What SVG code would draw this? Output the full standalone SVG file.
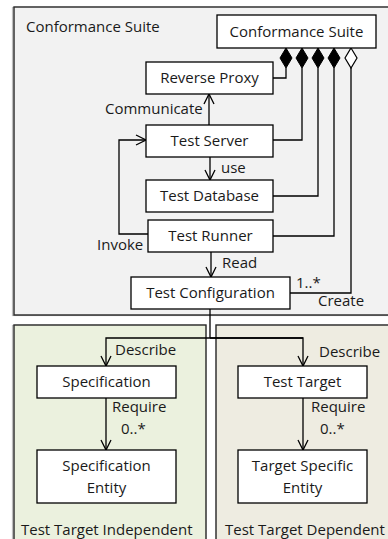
<svg xmlns="http://www.w3.org/2000/svg" width="388" height="539" viewBox="0 0 388 539">
<style>
  text { font-family: "Open Sans", "Noto Sans", sans-serif; font-size: 15px; fill: #1a1a1a; }
  .c { text-anchor: middle; }
  .node { fill: #ffffff; stroke: #000000; stroke-width: 1.3; }
  .cont { stroke: #262626; stroke-width: 1.4; }
  .shadow { fill: none; stroke: #bdbdbd; stroke-width: 1.2; }
  .line { fill: none; stroke: #000000; stroke-width: 1.3; }
  .dfill { fill: #000000; stroke: #000000; stroke-width: 1; }
  .dhollow { fill: #ffffff; stroke: #000000; stroke-width: 1.2; }
</style>
<defs>
  <marker id="arr" markerUnits="userSpaceOnUse" markerWidth="14" markerHeight="14" viewBox="-12 -7 14 14" refX="0" refY="0" orient="auto">
    <path d="M-10,-5 L0,0 L-10,5" fill="none" stroke="#000" stroke-width="1.3"/>
  </marker>
</defs>

<g id="container-suite">
  <rect x="12.5" y="7.5" width="380" height="308" class="shadow"/>
  <rect x="14" y="7" width="380" height="308" fill="#f2f2f2" class="cont"/>
  <text x="26" y="32">Conformance Suite</text>
</g>
<g id="container-independent">
  <rect x="12.5" y="325.5" width="193" height="220" class="shadow"/>
  <rect x="14" y="325" width="192" height="220" fill="#ebf1de" class="cont"/>
  <text x="21" y="535">Test Target Independent</text>
</g>
<g id="container-dependent">
  <rect x="217.5" y="325.5" width="180" height="220" class="shadow"/>
  <rect x="216" y="325" width="180" height="220" fill="#eeece1" class="cont"/>
  <text x="225" y="535">Test Target Dependent</text>
</g>

<g id="connectors">
  <!-- aggregation lines -->
  <polyline class="line" points="286,68 286,78 273,78"/>
  <polyline class="line" points="302,68 302,140 273,140"/>
  <polyline class="line" points="318,68 318,196 273,196"/>
  <polyline class="line" points="334,68 334,236 273,236"/>
  <polyline class="line" points="351,68 351,293 290,293"/>
  <polygon class="dfill" points="286,48 292,58 286,68 280,58"/>
  <polygon class="dfill" points="302,48 308,58 302,68 296,58"/>
  <polygon class="dfill" points="318,48 324,58 318,68 312,58"/>
  <polygon class="dfill" points="334,48 340,58 334,68 328,58"/>
  <polygon class="dhollow" points="351,48 357,58 351,68 345,58"/>
  <!-- arrows -->
  <line class="line" x1="209" y1="125" x2="209" y2="94" marker-end="url(#arr)"/>
  <line class="line" x1="210" y1="157" x2="210" y2="180" marker-end="url(#arr)"/>
  <line class="line" x1="211" y1="252" x2="211" y2="277" marker-end="url(#arr)"/>
  <polyline class="line" points="148,234 119,234 119,140 146,140" marker-end="url(#arr)"/>
  <polyline class="line" points="210,309 210,338"/>
  <polyline class="line" points="303,338 106,338 106,366" marker-end="url(#arr)"/>
  <polyline class="line" points="210,338 303,338 303,366" marker-end="url(#arr)"/>
  <line class="line" x1="106" y1="398" x2="106" y2="450" marker-end="url(#arr)"/>
  <line class="line" x1="303" y1="398" x2="303" y2="450" marker-end="url(#arr)"/>
  <!-- labels -->
  <text x="105" y="114">Communicate</text>
  <text x="221" y="173">use</text>
  <text x="222" y="268">Read</text>
  <text x="97" y="250">Invoke</text>
  <text x="296" y="288">1..*</text>
  <text x="318" y="306">Create</text>
  <text x="115" y="355">Describe</text>
  <text x="112" y="412">Require</text>
  <text x="121" y="434">0..*</text>
  <text x="319" y="357">Describe</text>
  <text x="311" y="412">Require</text>
  <text x="320" y="434">0..*</text>
</g>

<g id="node-conformance-suite">
  <rect x="217" y="15" width="159" height="33" class="node"/>
  <text x="296.5" y="37" class="c">Conformance Suite</text>
</g>
<g id="node-reverse-proxy">
  <rect x="146" y="62" width="127" height="32" class="node"/>
  <text x="209.5" y="83" class="c">Reverse Proxy</text>
</g>
<g id="node-test-server">
  <rect x="146" y="125" width="127" height="32" class="node"/>
  <text x="209.5" y="146" class="c">Test Server</text>
</g>
<g id="node-test-database">
  <rect x="146" y="180" width="127" height="32" class="node"/>
  <text x="209.5" y="201" class="c">Test Database</text>
</g>
<g id="node-test-runner">
  <rect x="148" y="220" width="125" height="32" class="node"/>
  <text x="210.5" y="241" class="c">Test Runner</text>
</g>
<g id="node-test-configuration">
  <rect x="131" y="277" width="159" height="32" class="node"/>
  <text x="210.5" y="298" class="c">Test Configuration</text>
</g>
<g id="node-specification">
  <rect x="37" y="366" width="139" height="32" class="node"/>
  <text x="106.5" y="387" class="c">Specification</text>
</g>
<g id="node-specification-entity">
  <rect x="37" y="450" width="139" height="53" class="node"/>
  <text x="106.5" y="471" class="c">Specification</text>
  <text x="106.5" y="493" class="c">Entity</text>
</g>
<g id="node-test-target">
  <rect x="238" y="366" width="129" height="32" class="node"/>
  <text x="302.5" y="387" class="c">Test Target</text>
</g>
<g id="node-target-specific-entity">
  <rect x="238" y="450" width="129" height="53" class="node"/>
  <text x="302.5" y="471" class="c">Target Specific</text>
  <text x="302.5" y="493" class="c">Entity</text>
</g>
</svg>
